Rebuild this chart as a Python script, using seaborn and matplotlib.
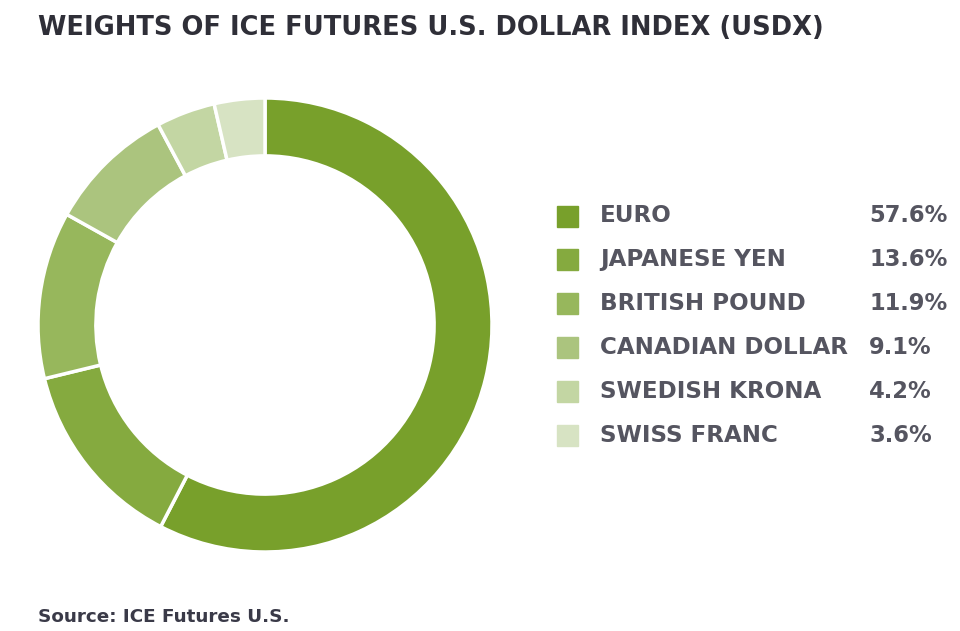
import matplotlib
matplotlib.use("Agg")
import matplotlib.pyplot as plt
from matplotlib.patches import Rectangle
import seaborn as sns

currencies = ["EURO", "JAPANESE YEN", "BRITISH POUND", "CANADIAN DOLLAR", "SWEDISH KRONA", "SWISS FRANC"]
weights = [57.6, 13.6, 11.9, 9.1, 4.2, 3.6]
colors = ["#78a02b", "#85aa3f", "#97b75c", "#abc47e", "#c3d6a3", "#d7e3c3"]

sns.set_theme(style="white")
plt.rcParams["font.family"] = ["DejaVu Sans"]

fig = plt.figure(figsize=(9.6, 6.31), dpi=100)

# donut
ax = fig.add_axes([38 / 960, 79 / 631, 454 / 960, 454 / 631])
ax.pie(weights, colors=colors, startangle=90, counterclock=False, radius=1,
       wedgeprops=dict(width=0.255, edgecolor="white", linewidth=2.5))
ax.set_xlim(-1, 1)
ax.set_ylim(-1, 1)
ax.set_aspect("equal")
ax.axis("off")

# legend
lax = fig.add_axes([0, 0, 1, 1])
lax.set_xlim(0, 960)
lax.set_ylim(631, 0)
lax.axis("off")
for i, (name, w, c) in enumerate(zip(currencies, weights, colors)):
    y = 216 + i * 43.8
    lax.add_patch(Rectangle((557, y - 10.5), 21, 21, color=c))
    lax.text(600, y, name, fontsize=16.6, fontweight="bold", color="#555560",
             va="center", ha="left")
    lax.text(869, y, f"{w}%", fontsize=16.3, fontweight="bold", color="#555560",
             va="center", ha="left")

lax.text(38, 28, "WEIGHTS OF ICE FUTURES U.S. DOLLAR INDEX (USDX)", fontsize=18.5,
         fontweight="bold", color="#2f2f38", va="center", ha="left")
lax.text(38, 617, "Source: ICE Futures U.S.", fontsize=13.2, fontweight="bold",
         color="#3a3a48", va="center", ha="left")

fig.savefig("out.png", dpi=100, facecolor="white")
